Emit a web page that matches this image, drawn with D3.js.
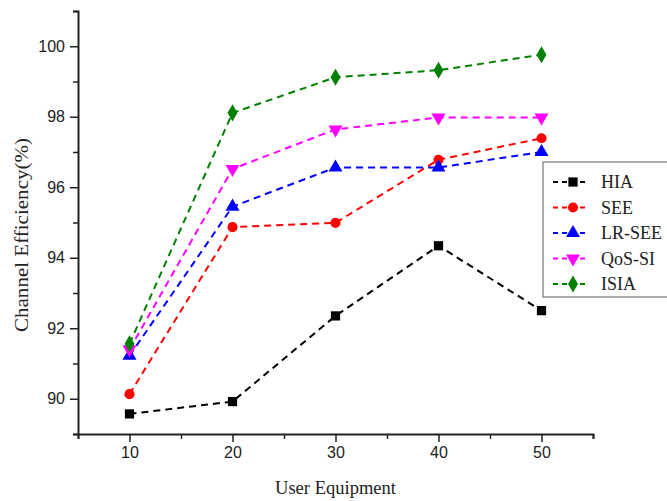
<!DOCTYPE html>
<html>
<head>
<meta charset="utf-8">
<script src="https://cdn.jsdelivr.net/npm/d3@7"></script>
<style>
  body { margin: 0; background: #fff; }
  svg { display: block; }
  .tick text { font-family: "Liberation Sans", Arial, sans-serif; font-size: 16px; fill: #222; }
  .axisTitle, .legendText { font-family: "Liberation Serif", "Times New Roman", serif; fill: #222; }
</style>
</head>
<body>
<script>
//chart data
var userEquipment = [10, 20, 30, 40, 50];
var seriesNames = ["HIA", "SEE", "LR-SEE", "QoS-SI", "ISIA"];
var hiaValues = [89.57, 89.92, 92.35, 94.34, 92.5];
var seeValues = [90.13, 94.87, 94.99, 96.78, 97.39];
var lrseeValues = [91.22, 95.45, 96.56, 96.56, 97.0];
var qossiValues = [91.4, 96.52, 97.64, 97.98, 97.98];
var isiaValues = [91.56, 98.11, 99.12, 99.32, 99.76];
var xTicks = [10, 20, 30, 40, 50];
var yTicks = [90, 92, 94, 96, 98, 100];

var seriesColors = ["#000000", "#ff0000", "#0000ff", "#ff00ff", "#008000"];
var seriesSymbols = [d3.symbolSquare, d3.symbolCircle, d3.symbolTriangle, d3.symbolTriangle, d3.symbolDiamond];

var series = [hiaValues, seeValues, lrseeValues, qossiValues, isiaValues].map(function(vals, i){
    return {
        name: seriesNames[i],
        color: seriesColors[i],
        symbol: seriesSymbols[i],
        flip: i == 3,
        points: vals.map(function(v, j){ return { x: userEquipment[j], y: v }; })
    };
});

var width = 667, height = 501;
var margin = { left: 78, right: 74, top: 11, bottom: 67 };

var svg = d3.select("body").append("svg")
    .attr("width", width)
    .attr("height", height);

var xScale = d3.scaleLinear().domain([5, 55]).range([margin.left, width - margin.right]);
var yScale = d3.scaleLinear().domain([89, 101]).range([height - margin.bottom, margin.top]);

//minor ticks first, then major ticks with labels
var xMinor = d3.range(5, 56, 5).filter(function(d){ return d % 10 != 0; });
var yMinor = d3.range(89, 101.5, 1).filter(function(d){ return d % 2 != 0; });

svg.append("g")
    .attr("transform", "translate(0," + yScale(89) + ")")
    .call(d3.axisBottom(xScale).tickValues(xMinor).tickSize(5).tickFormat(""))
    .call(function(g){ g.select(".domain").remove(); g.selectAll("line").attr("stroke", "#222").attr("stroke-width", 1.5); });

svg.append("g")
    .attr("transform", "translate(" + xScale(5) + ",0)")
    .call(d3.axisLeft(yScale).tickValues(yMinor).tickSize(5).tickFormat(""))
    .call(function(g){ g.select(".domain").remove(); g.selectAll("line").attr("stroke", "#222").attr("stroke-width", 1.5); });

var xAxis = svg.append("g")
    .attr("transform", "translate(0," + yScale(89) + ")")
    .call(d3.axisBottom(xScale).tickValues(xTicks).tickSize(8).tickSizeOuter(5).tickPadding(5));

var yAxis = svg.append("g")
    .attr("transform", "translate(" + xScale(5) + ",0)")
    .call(d3.axisLeft(yScale).tickValues(yTicks).tickSize(8).tickSizeOuter(5).tickPadding(5));

[xAxis, yAxis].forEach(function(ax){
    ax.select(".domain").attr("stroke", "#222").attr("stroke-width", 2);
    ax.selectAll(".tick line").attr("stroke", "#222").attr("stroke-width", 1.5);
});

//axis titles
svg.append("text")
    .attr("class", "axisTitle")
    .attr("x", 335.5)
    .attr("y", 494)
    .attr("text-anchor", "middle")
    .attr("textLength", 121)
    .attr("lengthAdjust", "spacingAndGlyphs")
    .style("font-size", "18.5px")
    .text("User Equipment");

svg.append("text")
    .attr("class", "axisTitle")
    .attr("transform", "translate(28,235) rotate(-90)")
    .attr("text-anchor", "middle")
    .attr("textLength", 194)
    .attr("lengthAdjust", "spacingAndGlyphs")
    .style("font-size", "18.5px")
    .text("Channel Efficiency(%)");

//lines and markers
var line = d3.line()
    .x(function(d){ return xScale(d.x); })
    .y(function(d){ return yScale(d.y); });

var groups = svg.selectAll(".series")
    .data(series)
    .enter()
    .append("g")
    .attr("class", "series");

groups.append("path")
    .attr("d", function(d){ return line(d.points); })
    .attr("fill", "none")
    .attr("stroke", function(d){ return d.color; })
    .attr("stroke-width", 2)
    .attr("stroke-dasharray", "7,5");

function markerSize(s){
    if (s.symbol == d3.symbolCircle) return 80;
    if (s.symbol == d3.symbolDiamond) return 85;
    if (s.symbol == d3.symbolTriangle) return 85;
    return 85;
}

groups.each(function(s){
    d3.select(this).selectAll(".marker")
        .data(s.points)
        .enter()
        .append("path")
        .attr("class", "marker")
        .attr("d", d3.symbol().type(s.symbol).size(markerSize(s)))
        .attr("transform", function(d){
            return "translate(" + xScale(d.x) + "," + yScale(d.y) + ")" + (s.flip ? " rotate(180)" : "");
        })
        .attr("fill", s.color);
});

//legend
var legend = svg.append("g").attr("transform", "translate(543,162)");

legend.append("rect")
    .attr("width", 130)
    .attr("height", 135)
    .attr("fill", "#fff")
    .attr("stroke", "#777")
    .attr("stroke-width", 1.2);

var items = legend.selectAll(".legendItem")
    .data(series)
    .enter()
    .append("g")
    .attr("class", "legendItem")
    .attr("transform", function(d, i){ return "translate(0," + (20 + i * 25.5) + ")"; });

items.append("line")
    .attr("x1", 10).attr("x2", 44)
    .attr("stroke", function(d){ return d.color; })
    .attr("stroke-width", 2)
    .attr("stroke-dasharray", "5,4");

items.append("path")
    .attr("d", function(d){ return d3.symbol().type(d.symbol).size(markerSize(d))(); })
    .attr("transform", function(d){ return "translate(30,0)" + (d.flip ? " rotate(180)" : ""); })
    .attr("fill", function(d){ return d.color; });

items.append("text")
    .attr("class", "legendText")
    .attr("x", 58)
    .attr("y", 6)
    .style("font-size", "18px")
    .text(function(d){ return d.name; });
</script>
</body>
</html>
